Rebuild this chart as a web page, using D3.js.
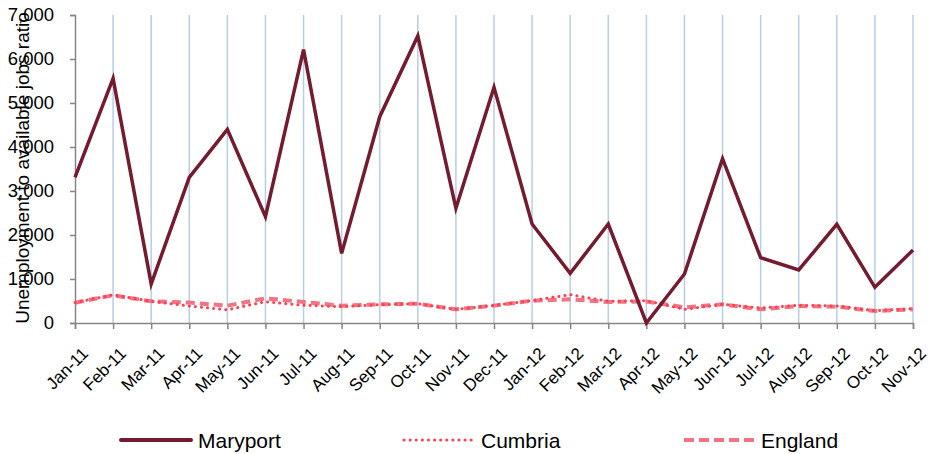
<!DOCTYPE html>
<html><head><meta charset="utf-8">
<script src="https://cdn.jsdelivr.net/npm/d3@7"></script>
<style>
html,body{margin:0;padding:0;background:#fff;}
svg{display:block;font-family:"Liberation Sans",Arial,sans-serif;}
</style></head>
<body><svg id="c" width="932" height="454"></svg>
<script>
const months = ["Jan-11","Feb-11","Mar-11","Apr-11","May-11","Jun-11","Jul-11","Aug-11","Sep-11","Oct-11","Nov-11","Dec-11",
  "Jan-12","Feb-12","Mar-12","Apr-12","May-12","Jun-12","Jul-12","Aug-12","Sep-12","Oct-12","Nov-12"];
const maryport = [3311,5561,886,3311,4402,2416,6215,1583,4689,6523,2606,5356,2250,1129,2250,0,1114,3734,1484,1205,2243,811,1659];
const cumbria  = [465,640,493,386,300,484,402,371,416,439,311,400,510,644,493,507,311,424,341,402,386,280,326];
const england  = [461,630,493,465,394,561,477,394,424,439,311,395,507,538,477,490,356,424,311,386,371,273,311];
const yTicks = [0,1000,2000,3000,4000,5000,6000,7000];
const seriesNames = ["Maryport","Cumbria","England"];

(function(){
const svg = d3.select("#c");
const pL = 75, pR = 913, pT = 15, pB = 323;
const x = d3.scalePoint().domain(months).range([pL, pR]);
const y = d3.scaleLinear().domain([0,7000]).range([pB, pT]);
const axisColor = "#868686";
const FF = "'Liberation Sans', Arial, sans-serif";

// vertical gridlines
svg.append("g").selectAll("line").data(months.slice(1)).join("line")
  .attr("x1", d => x(d)).attr("x2", d => x(d))
  .attr("y1", pT).attr("y2", pB)
  .attr("stroke", "#B9CDE5").attr("stroke-width", 1.5);

// y axis
const yAxis = svg.append("g").attr("transform", `translate(${pL},0)`)
  .call(d3.axisLeft(y).tickValues(yTicks).tickSize(5).tickPadding(16).tickFormat(d3.format(",")));
yAxis.select(".domain").attr("stroke", axisColor).attr("stroke-width", 1.5);
yAxis.selectAll(".tick line").attr("stroke", axisColor).attr("stroke-width", 1.5);
yAxis.selectAll(".tick text").attr("font-size", 18.5).attr("fill", "#000")
  .attr("font-family", FF);

// x axis
const xAxis = svg.append("g").attr("transform", `translate(0,${pB})`)
  .call(d3.axisBottom(x).tickSize(6).tickPadding(6));
xAxis.select(".domain").attr("stroke", axisColor).attr("stroke-width", 1.5);
xAxis.selectAll(".tick line").attr("stroke", axisColor).attr("stroke-width", 1.5);
xAxis.selectAll(".tick text").attr("font-size", 17).attr("fill", "#000")
  .attr("font-family", FF)
  .attr("text-anchor", "end").attr("x", 0).attr("y", 0).attr("dy", "0.72em")
  .attr("transform", "translate(5,23) rotate(-45)");

// y title
svg.append("text").attr("transform", `translate(29,168) rotate(-90)`)
  .attr("text-anchor", "middle").attr("font-size", 19).attr("fill", "#000")
  .attr("font-family", FF)
  .text("Unemployment to available jobs ratio");

const line = d3.line().x((d,i) => x(months[i])).y(d => y(d));

svg.append("path").datum(england).attr("d", line).attr("fill", "none")
  .attr("stroke", "#F07484").attr("stroke-width", 4).attr("stroke-dasharray", "9,5");
svg.append("path").datum(cumbria).attr("d", line).attr("fill", "none")
  .attr("stroke", "#FF4050").attr("stroke-width", 3).attr("stroke-linecap", "round")
  .attr("stroke-dasharray", "0.1,6");
svg.append("path").datum(maryport).attr("d", line).attr("fill", "none")
  .attr("stroke", "#741B2F").attr("stroke-width", 3.5).attr("stroke-linejoin", "miter");

// legend
const leg = [
  {name: seriesNames[0], x: 121, stroke: "#741B2F", w: 4, dash: null, cap: "round"},
  {name: seriesNames[1], x: 404, stroke: "#FF4050", w: 3, dash: "0.1,6", cap: "round"},
  {name: seriesNames[2], x: 684, stroke: "#F07484", w: 4, dash: "10,5", cap: "butt"}
];
const lg = svg.append("g").selectAll("g").data(leg).join("g");
lg.append("line").attr("x1", d => d.x).attr("x2", d => d.x + 70)
  .attr("y1", 440).attr("y2", 440)
  .attr("stroke", d => d.stroke).attr("stroke-width", d => d.w)
  .attr("stroke-dasharray", d => d.dash).attr("stroke-linecap", d => d.cap);
lg.append("text").attr("x", d => d.x + 77).attr("y", 448)
  .attr("font-size", 21).attr("fill", "#000").attr("font-family", FF).text(d => d.name);
})();
</script></body></html>
